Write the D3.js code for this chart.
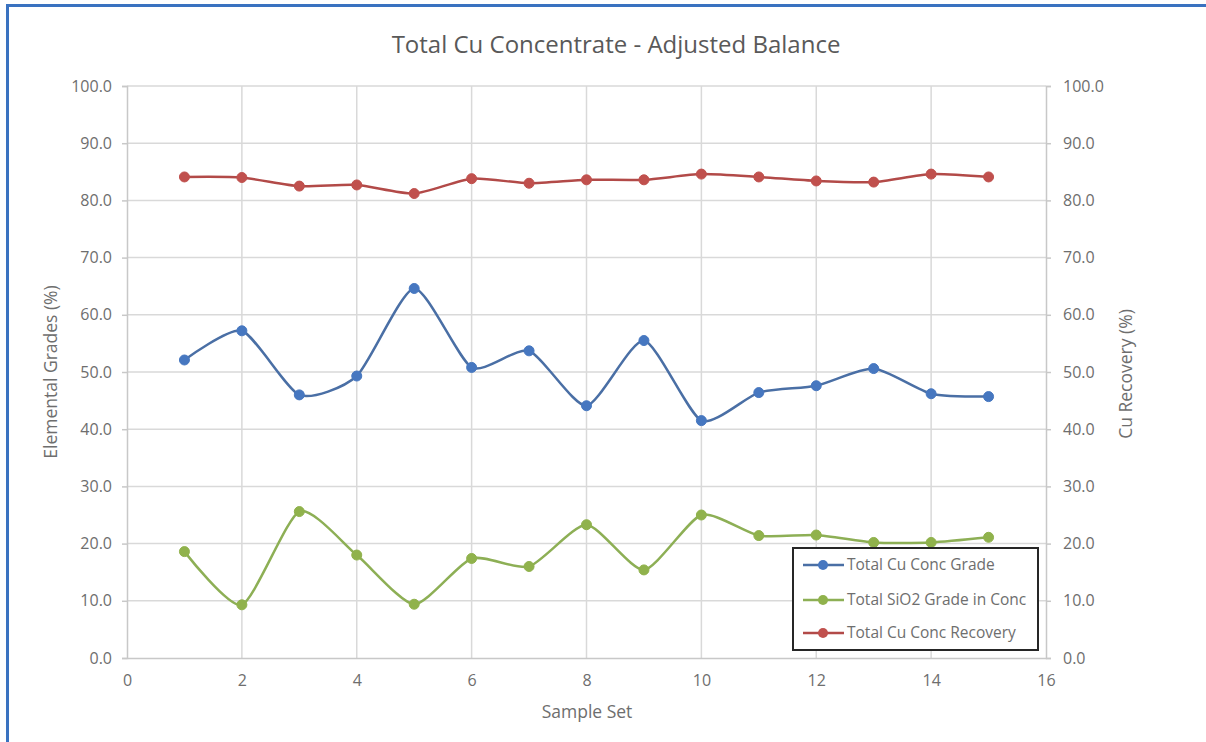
<!DOCTYPE html>
<html>
<head>
<meta charset="utf-8">
<script src="https://cdn.jsdelivr.net/npm/d3@7"></script>
<style>
  html, body { margin: 0; padding: 0; background: #fff; }
  svg { display: block; }
</style>
</head>
<body>
<svg id="chart" width="1206" height="742"></svg>
<script>
// Sample sets 1..15
const sampleSets = [1, 2, 3, 4, 5, 6, 7, 8, 9, 10, 11, 12, 13, 14, 15];

// Elemental grades (%) – left axis
const cuGrade = [52.1, 57.2, 46.0, 49.3, 64.6, 50.8, 53.7, 44.1, 55.5, 41.5, 46.4, 47.6, 50.6, 46.2, 45.7];
const sio2Grade = [18.6, 9.3, 25.6, 18.0, 9.4, 17.4, 16.0, 23.3, 15.4, 25.0, 21.4, 21.5, 20.2, 20.2, 21.1];

// Cu recovery (%) – right axis
const cuRecovery = [84.1, 84.0, 82.5, 82.7, 81.2, 83.8, 83.0, 83.6, 83.6, 84.6, 84.1, 83.4, 83.2, 84.6, 84.1];

const xTicks = [0, 2, 4, 6, 8, 10, 12, 14, 16];
const yTicks = [0, 10, 20, 30, 40, 50, 60, 70, 80, 90, 100];

const seriesNames = ["Total Cu Conc Grade", "Total SiO2 Grade in Conc", "Total Cu Conc Recovery"];

const font = "'Open Sans', 'DejaVu Sans', sans-serif";
const textGrey = "#6e6e6e";
const gridGrey = "#d9d9d9";

const svg = d3.select("#chart");
const W = 1206, H = 742;
const plot = { left: 127, right: 1046, top: 86, bottom: 658 };

// Outer frame
svg.append("rect").attr("x", 0).attr("y", 0).attr("width", W).attr("height", H).attr("fill", "#fff");
svg.append("line").attr("x1", 6).attr("x2", W).attr("y1", 5.5).attr("y2", 5.5)
  .attr("stroke", "#3a72c0").attr("stroke-width", 3);
svg.append("line").attr("x1", 7.5).attr("x2", 7.5).attr("y1", 4).attr("y2", H)
  .attr("stroke", "#3a72c0").attr("stroke-width", 3);

const x = d3.scaleLinear().domain([0, 16]).range([plot.left, plot.right]);
const yL = d3.scaleLinear().domain([0, 100]).range([plot.bottom, plot.top]);
const yR = d3.scaleLinear().domain([0, 100]).range([plot.bottom, plot.top]);

// Gridlines
const grid = svg.append("g");
grid.selectAll("line.h").data(yTicks.filter(d => d > 0)).join("line")
  .attr("x1", plot.left).attr("x2", plot.right)
  .attr("y1", d => yL(d)).attr("y2", d => yL(d))
  .attr("stroke", gridGrey).attr("stroke-width", 1.5);
grid.selectAll("line.v").data(xTicks.filter(d => d > 0 && d < 16)).join("line")
  .attr("x1", d => x(d)).attr("x2", d => x(d))
  .attr("y1", plot.top).attr("y2", plot.bottom)
  .attr("stroke", gridGrey).attr("stroke-width", 1.5);

// Axes
const axisStyle = g => {
  g.selectAll(".domain").attr("stroke", "#c8c8c8").attr("stroke-width", 1.5);
  g.selectAll(".tick line").attr("stroke", "#c8c8c8").attr("stroke-width", 1.5);
  g.selectAll(".tick text").attr("fill", textGrey).style("font-family", font).style("font-size", "16px");
};

svg.append("g").attr("transform", `translate(${plot.left},0)`)
  .call(d3.axisLeft(yL).tickValues(yTicks).tickFormat(d3.format(".1f")).tickSizeOuter(0).tickSize(5).tickPadding(10))
  .call(axisStyle);

svg.append("g").attr("transform", `translate(${plot.right},0)`)
  .call(d3.axisRight(yR).tickValues(yTicks).tickFormat(d3.format(".1f")).tickSizeOuter(0).tickSize(5).tickPadding(12))
  .call(axisStyle);

svg.append("g").attr("transform", `translate(0,${plot.bottom})`)
  .call(d3.axisBottom(x).tickValues(xTicks).tickFormat(d3.format("d")).tickSizeOuter(0).tickSize(0).tickPadding(17))
  .call(axisStyle);

// Titles
svg.append("text").attr("x", 616).attr("y", 53).attr("text-anchor", "middle")
  .attr("fill", "#595959").style("font-family", font).style("font-size", "24px")
  .text("Total Cu Concentrate - Adjusted Balance");

svg.append("text").attr("transform", `translate(57,372) rotate(-90)`).attr("text-anchor", "middle")
  .attr("fill", textGrey).style("font-family", font).style("font-size", "17.5px")
  .text("Elemental Grades (%)");

svg.append("text").attr("transform", `translate(1132,374) rotate(-90)`).attr("text-anchor", "middle")
  .attr("fill", textGrey).style("font-family", font).style("font-size", "17.5px")
  .text("Cu Recovery (%)");

svg.append("text").attr("x", 587).attr("y", 718).attr("text-anchor", "middle")
  .attr("fill", textGrey).style("font-family", font).style("font-size", "17.5px")
  .text("Sample Set");

// Series
const series = [
  { name: seriesNames[0], values: cuGrade, y: yL, line: "#4a6fa5", marker: "#4677c0" },
  { name: seriesNames[1], values: sio2Grade, y: yL, line: "#8daf55", marker: "#90b24c" },
  { name: seriesNames[2], values: cuRecovery, y: yR, line: "#b24a48", marker: "#c0504d" }
];

series.forEach(s => {
  const pts = sampleSets.map((d, i) => [d, s.values[i]]);
  const line = d3.line().x(d => x(d[0])).y(d => s.y(d[1])).curve(d3.curveCardinal.tension(0.35));
  svg.append("path").datum(pts).attr("d", line)
    .attr("fill", "none").attr("stroke", s.line).attr("stroke-width", 2.5);
  svg.append("g").selectAll("circle").data(pts).join("circle")
    .attr("cx", d => x(d[0])).attr("cy", d => s.y(d[1])).attr("r", 5)
    .attr("fill", s.marker).attr("stroke", s.marker).attr("stroke-width", 1);
});

// Legend
const lg = svg.append("g");
lg.append("rect").attr("x", 793).attr("y", 548).attr("width", 245).attr("height", 102)
  .attr("fill", "#fff").attr("stroke", "#262626").attr("stroke-width", 2);
const rowY = [565, 600, 633];
series.forEach((s, i) => {
  lg.append("line").attr("x1", 803).attr("x2", 844).attr("y1", rowY[i]).attr("y2", rowY[i])
    .attr("stroke", s.line).attr("stroke-width", 2.5);
  lg.append("circle").attr("cx", 823).attr("cy", rowY[i]).attr("r", 5).attr("fill", s.marker);
  lg.append("text").attr("x", 847).attr("y", rowY[i]).attr("dy", "0.35em")
    .attr("fill", textGrey).style("font-family", font).style("font-size", "15.5px")
    .text(s.name);
});
</script>
</body>
</html>
